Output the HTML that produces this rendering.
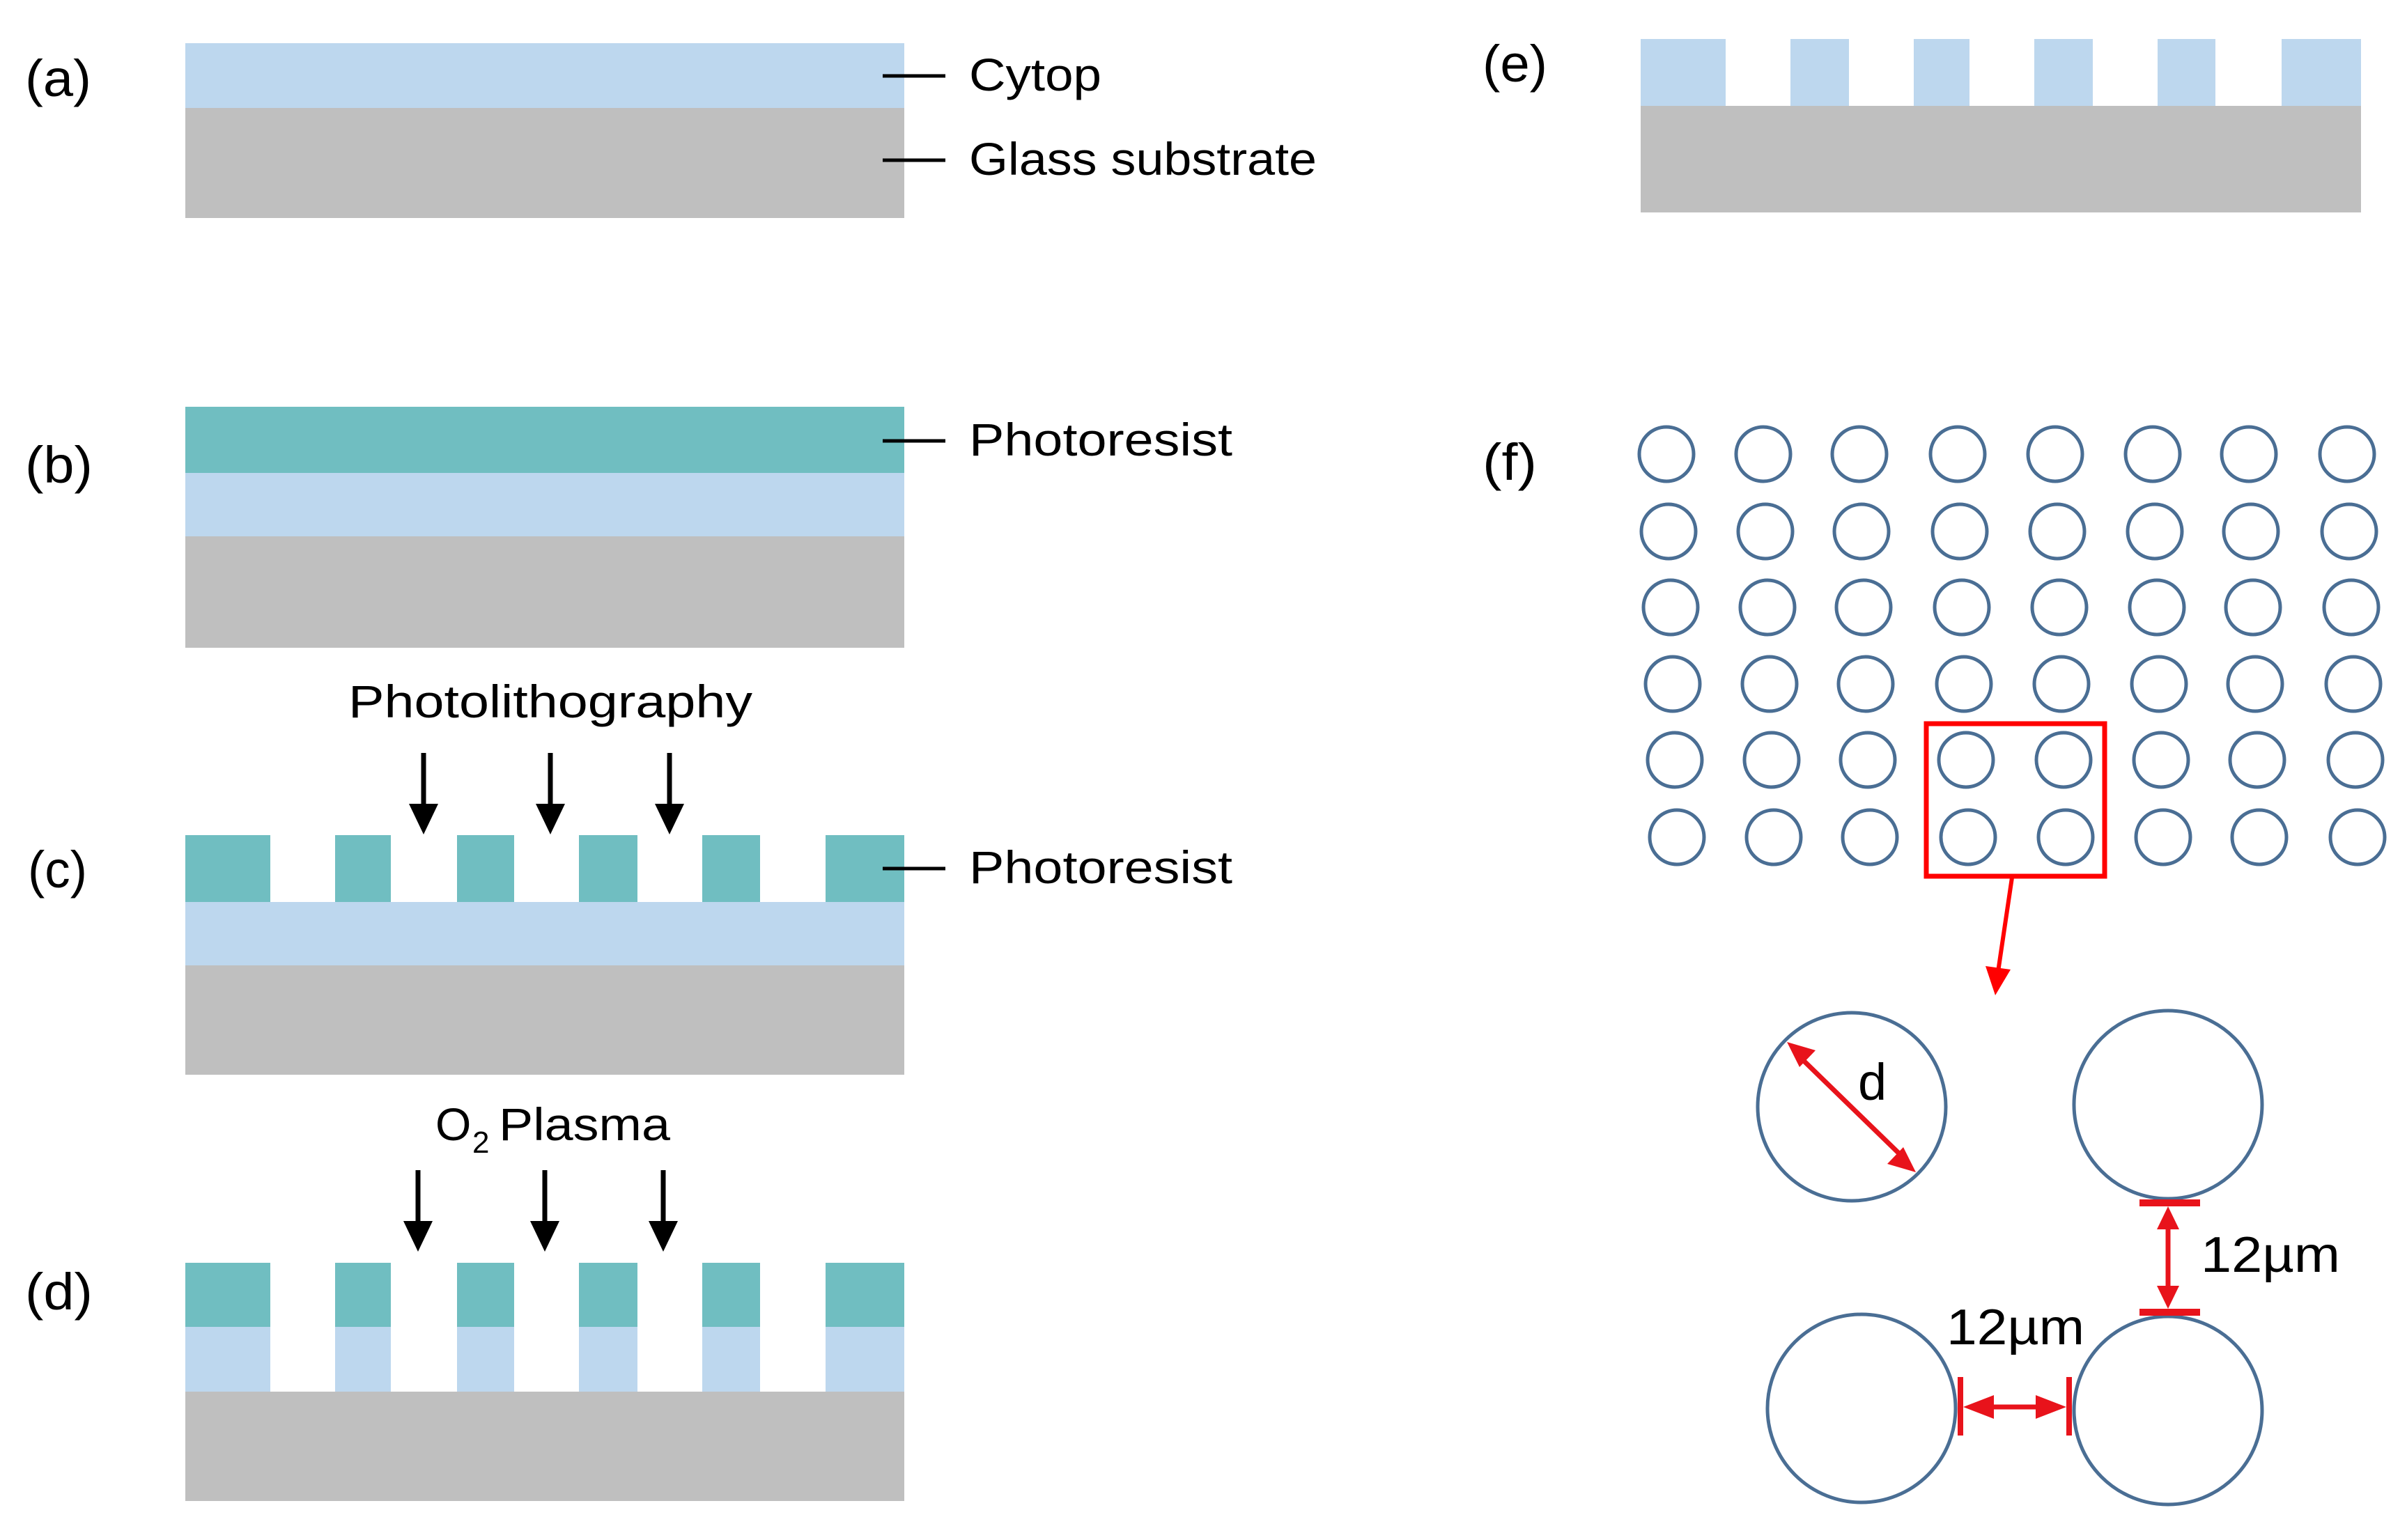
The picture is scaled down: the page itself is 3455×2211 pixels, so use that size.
<!DOCTYPE html>
<html><head><meta charset="utf-8"><style>
html,body{margin:0;padding:0;background:#fff;}
svg{display:block;}
text{font-family:"Liberation Sans",sans-serif;fill:#000;}
</style></head><body>
<svg width="3455" height="2211" viewBox="0 0 3455 2211" xmlns="http://www.w3.org/2000/svg">
<g font-size="66">
<!-- (a) -->
<text x="36" y="138" font-size="74" textLength="95" lengthAdjust="spacingAndGlyphs">(a)</text>
<rect x="266" y="62" width="1032" height="93" fill="#BDD7EE"/>
<rect x="266" y="155" width="1032" height="158" fill="#BFBFBF"/>
<line x1="1267" y1="109" x2="1357" y2="109" stroke="#000" stroke-width="5"/>
<line x1="1267" y1="230" x2="1357" y2="230" stroke="#000" stroke-width="5"/>
<text x="1391" y="130" textLength="190" lengthAdjust="spacingAndGlyphs">Cytop</text>
<text x="1391" y="251" textLength="499" lengthAdjust="spacingAndGlyphs">Glass substrate</text>

<!-- (b) -->
<text x="36" y="693" font-size="74" textLength="97" lengthAdjust="spacingAndGlyphs">(b)</text>
<rect x="266" y="584" width="1032" height="95" fill="#70BEC1"/>
<rect x="266" y="679" width="1032" height="91" fill="#BDD7EE"/>
<rect x="266" y="770" width="1032" height="160" fill="#BFBFBF"/>
<line x1="1267" y1="633" x2="1357" y2="633" stroke="#000" stroke-width="5"/>
<text x="1391" y="654" textLength="378" lengthAdjust="spacingAndGlyphs">Photoresist</text>

<!-- Photolithography -->
<text x="500" y="1030" textLength="580" lengthAdjust="spacingAndGlyphs">Photolithography</text>
<g stroke="#000" stroke-width="7">
<line x1="608" y1="1081" x2="608" y2="1160"/>
<line x1="790" y1="1081" x2="790" y2="1160"/>
<line x1="961" y1="1081" x2="961" y2="1160"/>
</g>
<g fill="#000">
<path d="M587,1154 L629,1154 L608,1198 z"/>
<path d="M769,1154 L811,1154 L790,1198 z"/>
<path d="M940,1154 L982,1154 L961,1198 z"/>
</g>

<!-- (c) -->
<text x="40" y="1274" font-size="74" textLength="85" lengthAdjust="spacingAndGlyphs">(c)</text>
<g fill="#70BEC1">
<rect x="266" y="1199" width="122" height="96"/>
<rect x="481" y="1199" width="80" height="96"/>
<rect x="656" y="1199" width="82" height="96"/>
<rect x="831" y="1199" width="84" height="96"/>
<rect x="1008" y="1199" width="83" height="96"/>
<rect x="1185" y="1199" width="113" height="96"/>
</g>
<rect x="266" y="1295" width="1032" height="91" fill="#BDD7EE"/>
<rect x="266" y="1386" width="1032" height="157" fill="#BFBFBF"/>
<line x1="1267" y1="1247" x2="1357" y2="1247" stroke="#000" stroke-width="5"/>
<text x="1391" y="1268" textLength="378" lengthAdjust="spacingAndGlyphs">Photoresist</text>

<!-- O2 Plasma -->
<text x="625" y="1637">O</text>
<text x="678" y="1655" font-size="44">2</text>
<text x="716" y="1637" textLength="246" lengthAdjust="spacingAndGlyphs">Plasma</text>
<g stroke="#000" stroke-width="7">
<line x1="600" y1="1680" x2="600" y2="1760"/>
<line x1="782" y1="1680" x2="782" y2="1760"/>
<line x1="952" y1="1680" x2="952" y2="1760"/>
</g>
<g fill="#000">
<path d="M579,1753 L621,1753 L600,1797 z"/>
<path d="M761,1753 L803,1753 L782,1797 z"/>
<path d="M931,1753 L973,1753 L952,1797 z"/>
</g>

<!-- (d) -->
<text x="36" y="1880" font-size="74" textLength="97" lengthAdjust="spacingAndGlyphs">(d)</text>
<g fill="#70BEC1">
<rect x="266" y="1813" width="122" height="92"/>
<rect x="481" y="1813" width="80" height="92"/>
<rect x="656" y="1813" width="82" height="92"/>
<rect x="831" y="1813" width="84" height="92"/>
<rect x="1008" y="1813" width="83" height="92"/>
<rect x="1185" y="1813" width="113" height="92"/>
</g>
<g fill="#BDD7EE">
<rect x="266" y="1905" width="122" height="93"/>
<rect x="481" y="1905" width="80" height="93"/>
<rect x="656" y="1905" width="82" height="93"/>
<rect x="831" y="1905" width="84" height="93"/>
<rect x="1008" y="1905" width="83" height="93"/>
<rect x="1185" y="1905" width="113" height="93"/>
</g>
<rect x="266" y="1998" width="1032" height="157" fill="#BFBFBF"/>

<!-- (e) -->
<text x="2128" y="117" font-size="74" textLength="93" lengthAdjust="spacingAndGlyphs">(e)</text>
<g fill="#BDD7EE">
<rect x="2355" y="56" width="122" height="96"/>
<rect x="2570" y="56" width="84" height="96"/>
<rect x="2747" y="56" width="80" height="96"/>
<rect x="2920" y="56" width="84" height="96"/>
<rect x="3097" y="56" width="83" height="96"/>
<rect x="3275" y="56" width="114" height="96"/>
</g>
<rect x="2355" y="152" width="1034" height="153" fill="#BFBFBF"/>

<!-- (f) -->
<text x="2128" y="689" font-size="74" textLength="78" lengthAdjust="spacingAndGlyphs">(f)</text>
</g>
<g fill="none" stroke="#4A6E94" stroke-width="5">
<g transform="translate(0,0)">
<circle cx="2392" cy="652" r="39"/><circle cx="2531" cy="652" r="39"/><circle cx="2669" cy="652" r="39"/><circle cx="2810" cy="652" r="39"/><circle cx="2950" cy="652" r="39"/><circle cx="3090" cy="652" r="39"/><circle cx="3228" cy="652" r="39"/><circle cx="3369" cy="652" r="39"/>
</g>
<g transform="translate(3,111)">
<circle cx="2392" cy="652" r="39"/><circle cx="2531" cy="652" r="39"/><circle cx="2669" cy="652" r="39"/><circle cx="2810" cy="652" r="39"/><circle cx="2950" cy="652" r="39"/><circle cx="3090" cy="652" r="39"/><circle cx="3228" cy="652" r="39"/><circle cx="3369" cy="652" r="39"/>
</g>
<g transform="translate(6,220)">
<circle cx="2392" cy="652" r="39"/><circle cx="2531" cy="652" r="39"/><circle cx="2669" cy="652" r="39"/><circle cx="2810" cy="652" r="39"/><circle cx="2950" cy="652" r="39"/><circle cx="3090" cy="652" r="39"/><circle cx="3228" cy="652" r="39"/><circle cx="3369" cy="652" r="39"/>
</g>
<g transform="translate(9,330)">
<circle cx="2392" cy="652" r="39"/><circle cx="2531" cy="652" r="39"/><circle cx="2669" cy="652" r="39"/><circle cx="2810" cy="652" r="39"/><circle cx="2950" cy="652" r="39"/><circle cx="3090" cy="652" r="39"/><circle cx="3228" cy="652" r="39"/><circle cx="3369" cy="652" r="39"/>
</g>
<g transform="translate(12,439)">
<circle cx="2392" cy="652" r="39"/><circle cx="2531" cy="652" r="39"/><circle cx="2669" cy="652" r="39"/><circle cx="2810" cy="652" r="39"/><circle cx="2950" cy="652" r="39"/><circle cx="3090" cy="652" r="39"/><circle cx="3228" cy="652" r="39"/><circle cx="3369" cy="652" r="39"/>
</g>
<g transform="translate(15,550)">
<circle cx="2392" cy="652" r="39"/><circle cx="2531" cy="652" r="39"/><circle cx="2669" cy="652" r="39"/><circle cx="2810" cy="652" r="39"/><circle cx="2950" cy="652" r="39"/><circle cx="3090" cy="652" r="39"/><circle cx="3228" cy="652" r="39"/><circle cx="3369" cy="652" r="39"/>
</g>
<circle cx="2658" cy="1589" r="135"/>
<circle cx="3112" cy="1586" r="135"/>
<circle cx="2672" cy="2022" r="135"/>
<circle cx="3112" cy="2025" r="135"/>
</g>
<!-- red box and arrow -->
<rect x="2765" y="1039" width="256" height="219" fill="none" stroke="#F00" stroke-width="7"/>
<line x1="2888" y1="1260" x2="2868" y2="1395" stroke="#F00" stroke-width="6"/>
<path d="M2850,1387 L2886,1392 L2864,1429 z" fill="#F00"/>
<!-- d arrow -->
<line x1="2585" y1="1519" x2="2730" y2="1660" stroke="#E8131B" stroke-width="7"/>
<path d="M2565,1496 L2606,1508 L2583,1532 z" fill="#E8131B"/>
<path d="M2750,1683 L2709,1671 L2732,1647 z" fill="#E8131B"/>
<text x="2667" y="1579" font-size="74">d</text>
<!-- vertical 12um -->
<rect x="3071" y="1722" width="87" height="10" fill="#E8131B"/>
<rect x="3071" y="1879" width="87" height="10" fill="#E8131B"/>
<line x1="3112" y1="1760" x2="3112" y2="1850" stroke="#E8131B" stroke-width="7"/>
<path d="M3112,1732 L3128,1765 L3096,1765 z" fill="#E8131B"/>
<path d="M3112,1879 L3128,1846 L3096,1846 z" fill="#E8131B"/>
<text x="3159" y="1826" font-size="72" textLength="200" lengthAdjust="spacingAndGlyphs">12µm</text>
<!-- horizontal 12um -->
<rect x="2810" y="1977" width="8" height="84" fill="#E8131B"/>
<rect x="2966" y="1977" width="8" height="84" fill="#E8131B"/>
<line x1="2845" y1="2020" x2="2940" y2="2020" stroke="#E8131B" stroke-width="7"/>
<path d="M2818,2020 L2862,2003 L2862,2037 z" fill="#E8131B"/>
<path d="M2966,2020 L2922,2003 L2922,2037 z" fill="#E8131B"/>
<text x="2794" y="1930" font-size="72" textLength="198" lengthAdjust="spacingAndGlyphs">12µm</text>
</svg>
</body></html>
